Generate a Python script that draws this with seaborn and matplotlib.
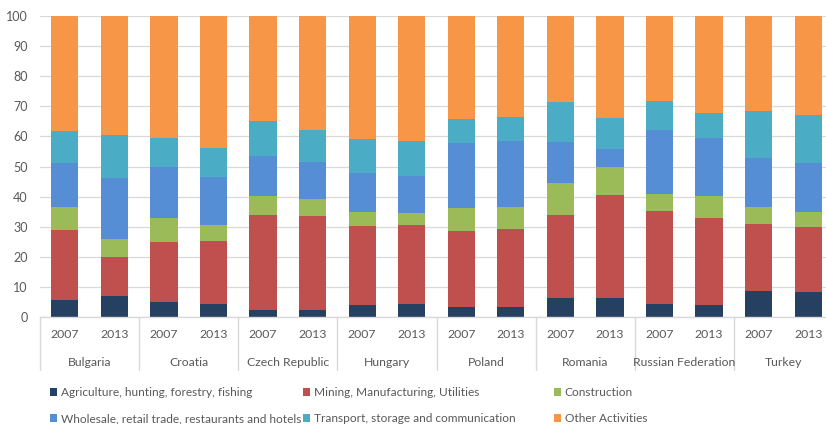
import matplotlib
matplotlib.use("Agg")
import matplotlib.pyplot as plt
import matplotlib.transforms as mtransforms
from matplotlib.patches import Patch
import numpy as np
import pandas as pd
import seaborn as sns

countries = ["Bulgaria", "Croatia", "Czech Republic", "Hungary", "Poland",
             "Romania", "Russian Federation", "Turkey"]
years = ["2007", "2013"]

sectors = ["Agriculture, hunting, forestry, fishing",
           "Mining, Manufacturing, Utilities",
           "Construction",
           "Wholesale, retail trade, restaurants and hotels",
           "Transport, storage and communication",
           "Other Activities"]

agriculture = [5.6, 7.0, 4.9, 4.2, 2.3, 2.4, 4.0, 4.4, 3.4, 3.2, 6.4, 6.4, 4.4, 4.0, 8.6, 8.3]
mining      = [23.3, 12.9, 19.9, 21.0, 31.5, 31.2, 26.3, 26.2, 25.1, 26.0, 27.6, 34.1, 30.7, 28.8, 22.3, 21.6]
construction= [7.8, 6.0, 8.1, 5.4, 6.5, 5.6, 4.7, 4.0, 7.8, 7.3, 10.5, 9.3, 5.9, 7.3, 5.5, 4.9]
wholesale   = [14.5, 20.4, 17.0, 16.0, 13.3, 12.4, 12.7, 12.1, 21.6, 22.1, 13.6, 6.1, 21.1, 19.3, 16.4, 16.5]
transport   = [10.5, 14.2, 9.7, 9.7, 11.5, 10.6, 11.4, 11.7, 8.0, 8.0, 13.4, 10.3, 9.7, 8.4, 15.5, 15.8]
other       = [38.3, 39.5, 40.4, 43.7, 34.9, 37.8, 40.9, 41.6, 34.1, 33.4, 28.5, 33.8, 28.2, 32.2, 31.7, 32.9]

colors = ["#254061", "#c0504d", "#9bbb59", "#558ed5", "#4bacc6", "#f79646"]

series = [agriculture, mining, construction, wholesale, transport, other]
bar_ids = [f"{c}|{y}" for c in countries for y in years]

rows = []
for s, vals in zip(sectors, series):
    for b, v in zip(bar_ids, vals):
        rows.append({"bar": b, "sector": s, "value": v})
df = pd.DataFrame(rows)
df["cum"] = df.groupby("bar")["value"].cumsum()

sns.set_theme(style="white")
plt.rcParams["font.family"] = ["Lato", "DejaVu Sans"]
TXT = "#595959"
FS = 8.6

fig = plt.figure(figsize=(8.26, 4.24), dpi=100)
W, H = 826, 424
ax_left, ax_right, ax_top, ax_bot = 40, 833, 16, 317
ax = fig.add_axes([ax_left / W, (H - ax_bot) / H, (ax_right - ax_left) / W, (ax_bot - ax_top) / H])

# draw cumulative totals from top layer down so each layer overlays the previous
for s, col in reversed(list(zip(sectors, colors))):
    sub = df[df["sector"] == s]
    sns.barplot(data=sub, x="bar", y="cum", order=bar_ids, color=col,
                width=0.55, saturation=1, linewidth=0, ax=ax, zorder=3)

ax.set_ylim(0, 100)
ax.set_xlim(-0.5, len(bar_ids) - 0.5)
ax.set_yticks(np.arange(0, 101, 10))
ax.yaxis.grid(True, color="#d9d9d9", linewidth=0.9, zorder=0)
ax.set_axisbelow(True)
for sp in ax.spines.values():
    sp.set_visible(False)
ax.set_xlabel("")
ax.set_ylabel("")
ax.tick_params(axis="y", length=0, pad=9, labelsize=9, labelcolor=TXT)
ax.set_xticks([])

trans = mtransforms.blended_transform_factory(ax.transData, ax.transAxes)
px = 1.0 / (ax_bot - ax_top)
ax.plot([-0.5, len(bar_ids) - 0.5], [0, 0], transform=trans, color="#d9d9d9",
        lw=1, clip_on=False, zorder=4)
for k in range(len(countries) + 1):
    xs = -0.5 + 2 * k
    ax.plot([xs, xs], [0, -53 * px], transform=trans, color="#d9d9d9",
            lw=1, clip_on=False)
for i, b in enumerate(bar_ids):
    ax.text(i, -17 * px, b.split("|")[1], transform=trans, ha="center", va="center",
            fontsize=8.8, color=TXT)
for k, c in enumerate(countries):
    ax.text(2 * k + 0.5, -45 * px, c, transform=trans, ha="center", va="center",
            fontsize=8.8, color=TXT)

# legend: three columns of two entries each
col_x = [50, 303, 554]
for j in range(3):
    hs = [Patch(facecolor=colors[j], edgecolor="none", label=sectors[j]),
          Patch(facecolor=colors[j + 3], edgecolor="none", label=sectors[j + 3])]
    fig.legend(handles=hs, ncol=1, loc="upper left",
               bbox_to_anchor=(col_x[j] / W, (H - 387) / H), frameon=False,
               fontsize=FS, handlelength=0.6, handleheight=0.6, handletextpad=0.3,
               labelspacing=1.25, labelcolor=TXT, borderpad=0, borderaxespad=0)

fig.savefig("out.png", dpi=100)
